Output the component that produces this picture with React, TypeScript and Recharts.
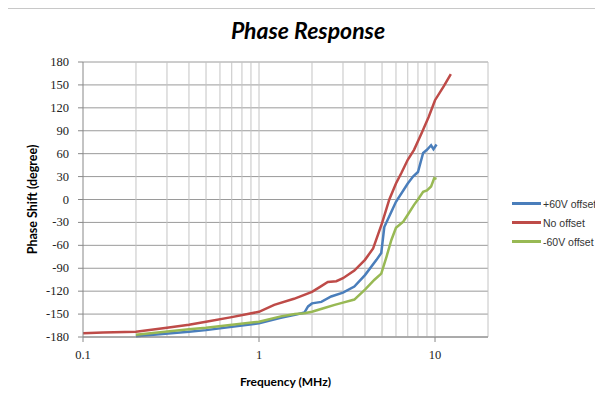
import { CartesianGrid, Line, LineChart, ReferenceLine, XAxis, YAxis } from "recharts";

const plusFreq = [0.2, 0.4, 0.5, 1, 1.33, 1.6, 1.81, 1.9, 2, 2.26, 2.57, 3, 3.48, 4, 4.65, 4.95, 5.15, 5.65, 6, 7, 7.5, 8, 8.56, 9, 9.5, 9.8, 10.2];
const plusPhase = [-179, -173, -171, -162, -155, -151, -148, -140, -136, -134, -127, -122, -114, -99, -79, -70, -36, -16, -3, 21, 30, 36, 61, 65, 71, 66, 72];

const noFreq = [0.1, 0.13, 0.2, 0.3, 0.4, 0.5, 0.7, 1, 1.22, 1.58, 2, 2.2, 2.46, 2.75, 3, 3.48, 4, 4.45, 5, 5.5, 6, 6.45, 7, 7.6, 8.4, 9.2, 10, 11.2, 12.3];
const noPhase = [-175, -174, -173, -168, -164, -160, -154, -147, -138, -130, -121, -115, -108, -107, -103, -93, -79, -64, -31, 0, 21, 35, 52, 65, 87, 108, 130, 148, 164];

const minusFreq = [0.2, 0.4, 0.5, 1, 1.33, 1.6, 1.81, 2, 2.35, 2.69, 3, 3.48, 4, 4.53, 4.95, 5.3, 5.65, 6, 6.6, 7, 7.6, 8, 8.56, 9, 9.5, 9.9, 10.2];
const minusPhase = [-177, -170, -168, -160, -153, -150, -149, -147, -142, -138, -135, -131, -118, -105, -97, -75, -53, -37, -29, -20, -7, 0, 10, 12, 17, 28, 27];

const yTicks = [-180, -150, -120, -90, -60, -30, 0, 30, 60, 90, 120, 150, 180];
const xTicks = [0.1, 1, 10];
const gridFreqs = [0.2, 0.3, 0.4, 0.5, 0.6, 0.7, 0.8, 0.9, 1, 2, 3, 4, 5, 6, 7, 8, 9, 10, 20];

const zip = (f: number[], v: number[]) => f.map((x, i) => ({ f: x, v: v[i] }));

const series = [
  { name: "+60V offset", color: "#4a7ebb", data: zip(plusFreq, plusPhase) },
  { name: "No offset", color: "#be4b48", data: zip(noFreq, noPhase) },
  { name: "-60V offset", color: "#98b954", data: zip(minusFreq, minusPhase) },
];

const serif = "'Liberation Serif', 'DejaVu Serif', serif";

function XTick({ x, y, payload }: any) {
  return (
    <text x={x} y={y + 15} textAnchor="middle" fontFamily={serif} fontSize={12.5} fill="#222">
      {String(payload.value)}
    </text>
  );
}

function YTick({ x, y, payload }: any) {
  return (
    <text x={x - 7} y={y + 4} textAnchor="end" fontFamily={serif} fontSize={12.5} fill="#222">
      {String(payload.value)}
    </text>
  );
}

export default function App() {
  return (
    <div style={{ position: "relative", width: 603, height: 400, margin: -8, background: "#fff", overflow: "hidden" }}>
      <div style={{ position: "absolute", left: 5, top: 8, right: -2, bottom: -2, borderLeft: "1px solid #c8c8c8", borderTop: "1px solid #c8c8c8" }} />
      <div
        style={{
          position: "absolute",
          top: 16,
          left: 0,
          width: 616,
          textAlign: "center",
          fontFamily: "Lato",
          fontWeight: 700,
          fontStyle: "italic",
          fontSize: 23,
          color: "#000",
        }}
      >
        Phase Response
      </div>
      <LineChart width={603} height={400} margin={{ top: 62, right: 115, left: 0, bottom: 0 }} style={{ position: "absolute", left: 0, top: 0 }}>
        <CartesianGrid vertical={false} stroke="#9a9a9a" />
        {gridFreqs.map((g) => (
          <ReferenceLine key={g} x={g} stroke="#c4c4c4" />
        ))}
        <XAxis
          dataKey="f"
          type="number"
          scale="log"
          domain={[0.1, 20]}
          ticks={xTicks}
          allowDataOverflow
          height={63}
          tick={<XTick />}
          tickLine={{ stroke: "#888" }}
          axisLine={{ stroke: "#888" }}
          tickSize={5}
          label={{ value: "Frequency (MHz)", position: "insideBottom", offset: 14, style: { fontFamily: "Lato", fontWeight: 700, fontSize: 12, fill: "#000" } }}
        />
        <YAxis
          type="number"
          domain={[-180, 180]}
          ticks={yTicks}
          width={83}
          interval={0}
          tick={<YTick />}
          tickLine={{ stroke: "#888" }}
          axisLine={{ stroke: "#888" }}
          tickSize={5}
          label={{ value: "Phase Shift (degree)", angle: -90, position: "insideLeft", offset: 33, style: { textAnchor: "middle", fontFamily: "Lato", fontWeight: 700, fontSize: 12.5, fill: "#000" } }}
        />
        {series.map((s) => (
          <Line
            key={s.name}
            data={s.data}
            dataKey="v"
            name={s.name}
            stroke={s.color}
            strokeWidth={2.5}
            dot={false}
            type="linear"
            isAnimationActive={false}
          />
        ))}
      </LineChart>
      <div style={{ position: "absolute", left: 512, top: 194, fontFamily: "Liberation Sans", fontSize: 10.5, color: "#333" }}>
        {series.map((s) => (
          <div key={s.name} style={{ display: "flex", alignItems: "center", height: 19 }}>
            <div style={{ width: 29, height: 2.5, background: s.color, marginRight: 2 }} />
            <span>{s.name}</span>
          </div>
        ))}
      </div>
    </div>
  );
}
